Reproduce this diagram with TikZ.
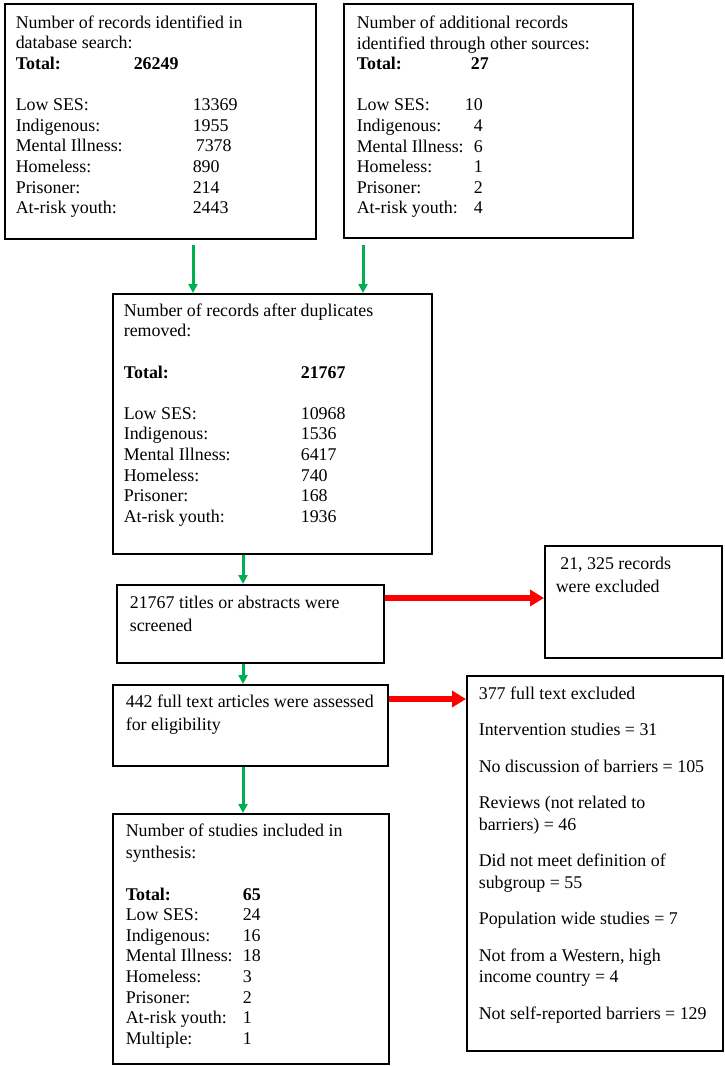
\documentclass[tikz,border=0pt]{standalone}
\usepackage{fontspec}
\setmainfont{Liberation Serif}
\usepackage{tikz}
\usetikzlibrary{arrows.meta, positioning, calc}
\definecolor{keepgreen}{RGB}{0, 176, 80}
\definecolor{dropred}{RGB}{255, 0, 0}
\newcommand{\boxbody}[3]{\parbox[c][#2][t]{#1}{#3}}
\newcommand{\countrow}[3]{\makebox[#1][l]{#2}#3}
\newcommand{\countrowr}[3]{\makebox[#1][l]{#2\hfill#3}}

\begin{document}
\begin{tikzpicture}[x=1pt, y=-1pt,
    stagebox/.style={draw=black, line width=1.6pt, anchor=north west,
      font=\fontsize{17.9}{20.6}\selectfont},
    passarrow/.style={draw=keepgreen, line width=3pt, -{Triangle[width=9pt, length=9pt]}},
    droparrow/.style={draw=dropred, line width=6pt, -{Triangle[width=16pt, length=14pt]}}]
  \useasboundingbox (0,0) rectangle (725,1066);

  \node[stagebox, inner xsep=11pt, inner ysep=11.8pt] (dbsearch) at (4,3) {\boxbody{289pt}{211.4pt}{%
    Number of records identified in\\
    database search:\\
    \countrow{118pt}{\textbf{Total:}}{\textbf{26249}}\\[20.6pt]
    \countrow{177pt}{Low SES:}{13369}\\
    \countrow{177pt}{Indigenous:}{1955}\\
    \countrow{180pt}{Mental Illness:}{7378}\\
    \countrow{177pt}{Homeless:}{890}\\
    \countrow{177pt}{Prisoner:}{214}\\
    \countrow{177pt}{At-risk youth:}{2443}}};

  \node[stagebox, inner xsep=13pt, inner ysep=12pt] (othersrc) at (343,3) {\boxbody{263pt}{210pt}{%
    Number of additional records\\
    identified through other sources:\\
    \countrow{114pt}{\textbf{Total:}}{\textbf{27}}\\[20.6pt]
    \countrowr{126pt}{Low SES:}{10}\\
    \countrowr{126pt}{Indigenous:}{4}\\
    \countrowr{126pt}{Mental Illness:}{6}\\
    \countrowr{126pt}{Homeless:}{1}\\
    \countrowr{126pt}{Prisoner:}{2}\\
    \countrowr{126pt}{At-risk youth:}{4}}};

  \node[stagebox, inner xsep=11pt, inner ysep=9.8pt] (dedup) at (112,293) {\boxbody{297pt}{240.4pt}{%
    Number of records after duplicates\\
    removed:\\[20.6pt]
    \countrow{177pt}{\textbf{Total:}}{\textbf{21767}}\\[20.6pt]
    \countrow{177pt}{Low SES:}{10968}\\
    \countrow{177pt}{Indigenous:}{1536}\\
    \countrow{177pt}{Mental Illness:}{6417}\\
    \countrow{177pt}{Homeless:}{740}\\
    \countrow{177pt}{Prisoner:}{168}\\
    \countrow{177pt}{At-risk youth:}{1936}}};

  \node[stagebox, font=\fontsize{17.9}{23.5}\selectfont, inner xsep=13pt, inner ysep=10.8pt]
    (screen) at (116,584) {\boxbody{241pt}{56.4pt}{%
    21767 titles or abstracts were\\
    screened}};

  \node[stagebox, font=\fontsize{17.9}{23.5}\selectfont, inner xsep=11pt, inner ysep=10.8pt]
    (excluded) at (544,545) {\boxbody{155pt}{90.4pt}{%
    \hspace{4.5pt}21, 325 records\\
    were excluded}};

  \node[stagebox, font=\fontsize{17.9}{23.5}\selectfont, inner xsep=13pt, inner ysep=9.8pt]
    (fulltext) at (112,684) {\boxbody{249pt}{61.4pt}{%
    442 full text articles were assessed\\
    for eligibility}};

  \node[stagebox, font=\fontsize{17.9}{21.5}\selectfont, inner xsep=12pt, inner ysep=10.8pt]
    (reasons) at (466,675) {\boxbody{232pt}{353.4pt}{%
    377 full text excluded\\[15pt]
    Intervention studies = 31\\[15pt]
    No discussion of barriers = 105\\[15pt]
    Reviews (not related to\\
    barriers) = 46\\[15pt]
    Did not meet definition of\\
    subgroup = 55\\[15pt]
    Population wide studies = 7\\[15pt]
    Not from a Western, high\\
    income country = 4\\[15pt]
    Not self-reported barriers = 129}};

  \node[stagebox, inner xsep=13pt, inner ysep=9.8pt] (synthesis) at (112,813) {\boxbody{250pt}{230.4pt}{%
    Number of studies included in\\[2pt]
    synthesis:\\[20.6pt]
    \countrow{117pt}{\textbf{Total:}}{\textbf{65}}\\
    \countrow{117pt}{Low SES:}{24}\\
    \countrow{117pt}{Indigenous:}{16}\\
    \countrow{117pt}{Mental Illness:}{18}\\
    \countrow{117pt}{Homeless:}{3}\\
    \countrow{117pt}{Prisoner:}{2}\\
    \countrow{117pt}{At-risk youth:}{1}\\
    \countrow{117pt}{Multiple:}{1}}};

  \coordinate (leftfeed) at (193,0);
  \coordinate (rightfeed) at (363,0);
  \coordinate (spine) at (243,0);
  \coordinate (screenlevel) at (0,598);
  \coordinate (fulltextlevel) at (0,699);

  \draw[passarrow, shorten <=5pt] (dbsearch.south -| leftfeed) -- (dedup.north -| leftfeed);
  \draw[passarrow, shorten <=6pt] (othersrc.south -| rightfeed) -- (dedup.north -| rightfeed);
  \draw[passarrow] (dedup.south -| spine) -- (screen.north -| spine);
  \draw[passarrow] (screen.south -| spine) -- (fulltext.north -| spine);
  \draw[passarrow] (fulltext.south -| spine) -- (synthesis.north -| spine);
  \draw[droparrow] (screen.east |- screenlevel) -- (excluded.west |- screenlevel);
  \draw[droparrow] (fulltext.east |- fulltextlevel) -- (reasons.west |- fulltextlevel);
\end{tikzpicture}
\end{document}
